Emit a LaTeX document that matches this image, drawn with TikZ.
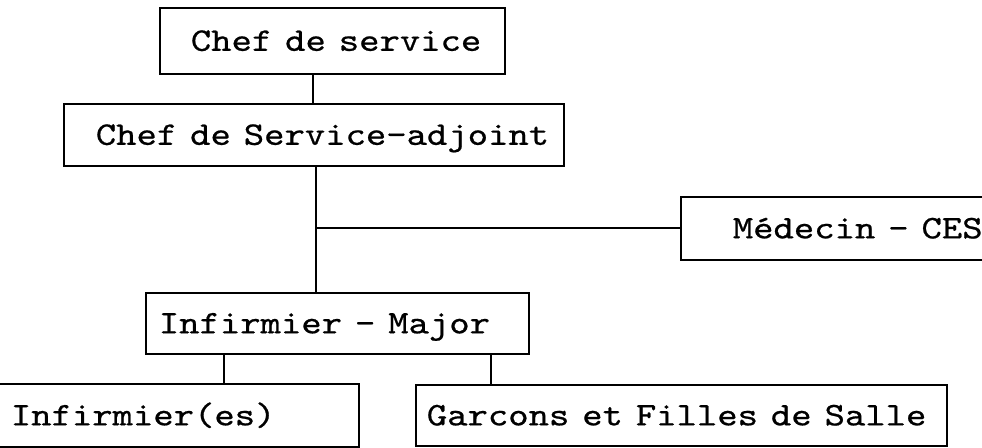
\documentclass[tikz,border=0pt]{standalone}
\usepackage{fontspec}
\usepackage{graphicx}
\newfontfamily\boxtt[FakeBold=0.6]{lmmono10-regular.otf}
\newcommand{\stxt}[1]{\scalebox{1.175}[1]{#1}}
\begin{document}
\begin{tikzpicture}[x=1pt,y=-1pt,
  orgbox/.style={draw, line width=1.7pt, rectangle, anchor=north west, inner xsep=0pt, inner ysep=0pt,
    align=left, text height=20pt, text depth=0pt,
    font=\boxtt\fontsize{33}{33}\selectfont},
  link/.style={line width=1.8pt}]
\useasboundingbox (0,0) rectangle (982,447);
\clip (0,0) rectangle (982,447);
\fill[white] (0,0) rectangle (982,447);
% boxes: (x1,y1), width, height, left pad
\node[orgbox, text width=345pt, minimum height=66pt] (B1) at (159,7) {\hspace*{31pt}\stxt{Chef de service}};
\node[orgbox, text width=500pt, minimum height=62pt] (B2) at (63,103) {\hspace*{32pt}\stxt{Chef de Service-adjoint}};
\node[orgbox, text width=330pt, minimum height=63pt] (B3) at (680,196) {\hspace*{52pt}\stxt{Médecin - CES}};
\node[orgbox, text width=383pt, minimum height=61pt] (B4) at (145,292) {\hspace*{13pt}\stxt{Infirmier - Major}};
\node[orgbox, text width=368pt, minimum height=63pt] (B5) at (-10,383) {\hspace*{20pt}\stxt{Infirmier(es)}};
\node[orgbox, text width=531pt, minimum height=61pt] (B6) at (415,384) {\hspace*{11pt}\stxt{Garcons et Filles de Salle}};
% connector columns
\coordinate (v1) at (313,0);
\coordinate (v2) at (316,0);
\coordinate (v3) at (224,0);
\coordinate (v4) at (491,0);
\draw[link] (v1 |- B1.south) -- (v1 |- B2.north);
\draw[link] (v2 |- B2.south) -- (v2 |- B4.north);
\draw[link] (v2 |- B3.west) -- (B3.west);
\draw[link] (v3 |- B4.south) -- (v3 |- B5.north);
\draw[link] (v4 |- B4.south) -- (v4 |- B6.north);
\end{tikzpicture}
\end{document}
